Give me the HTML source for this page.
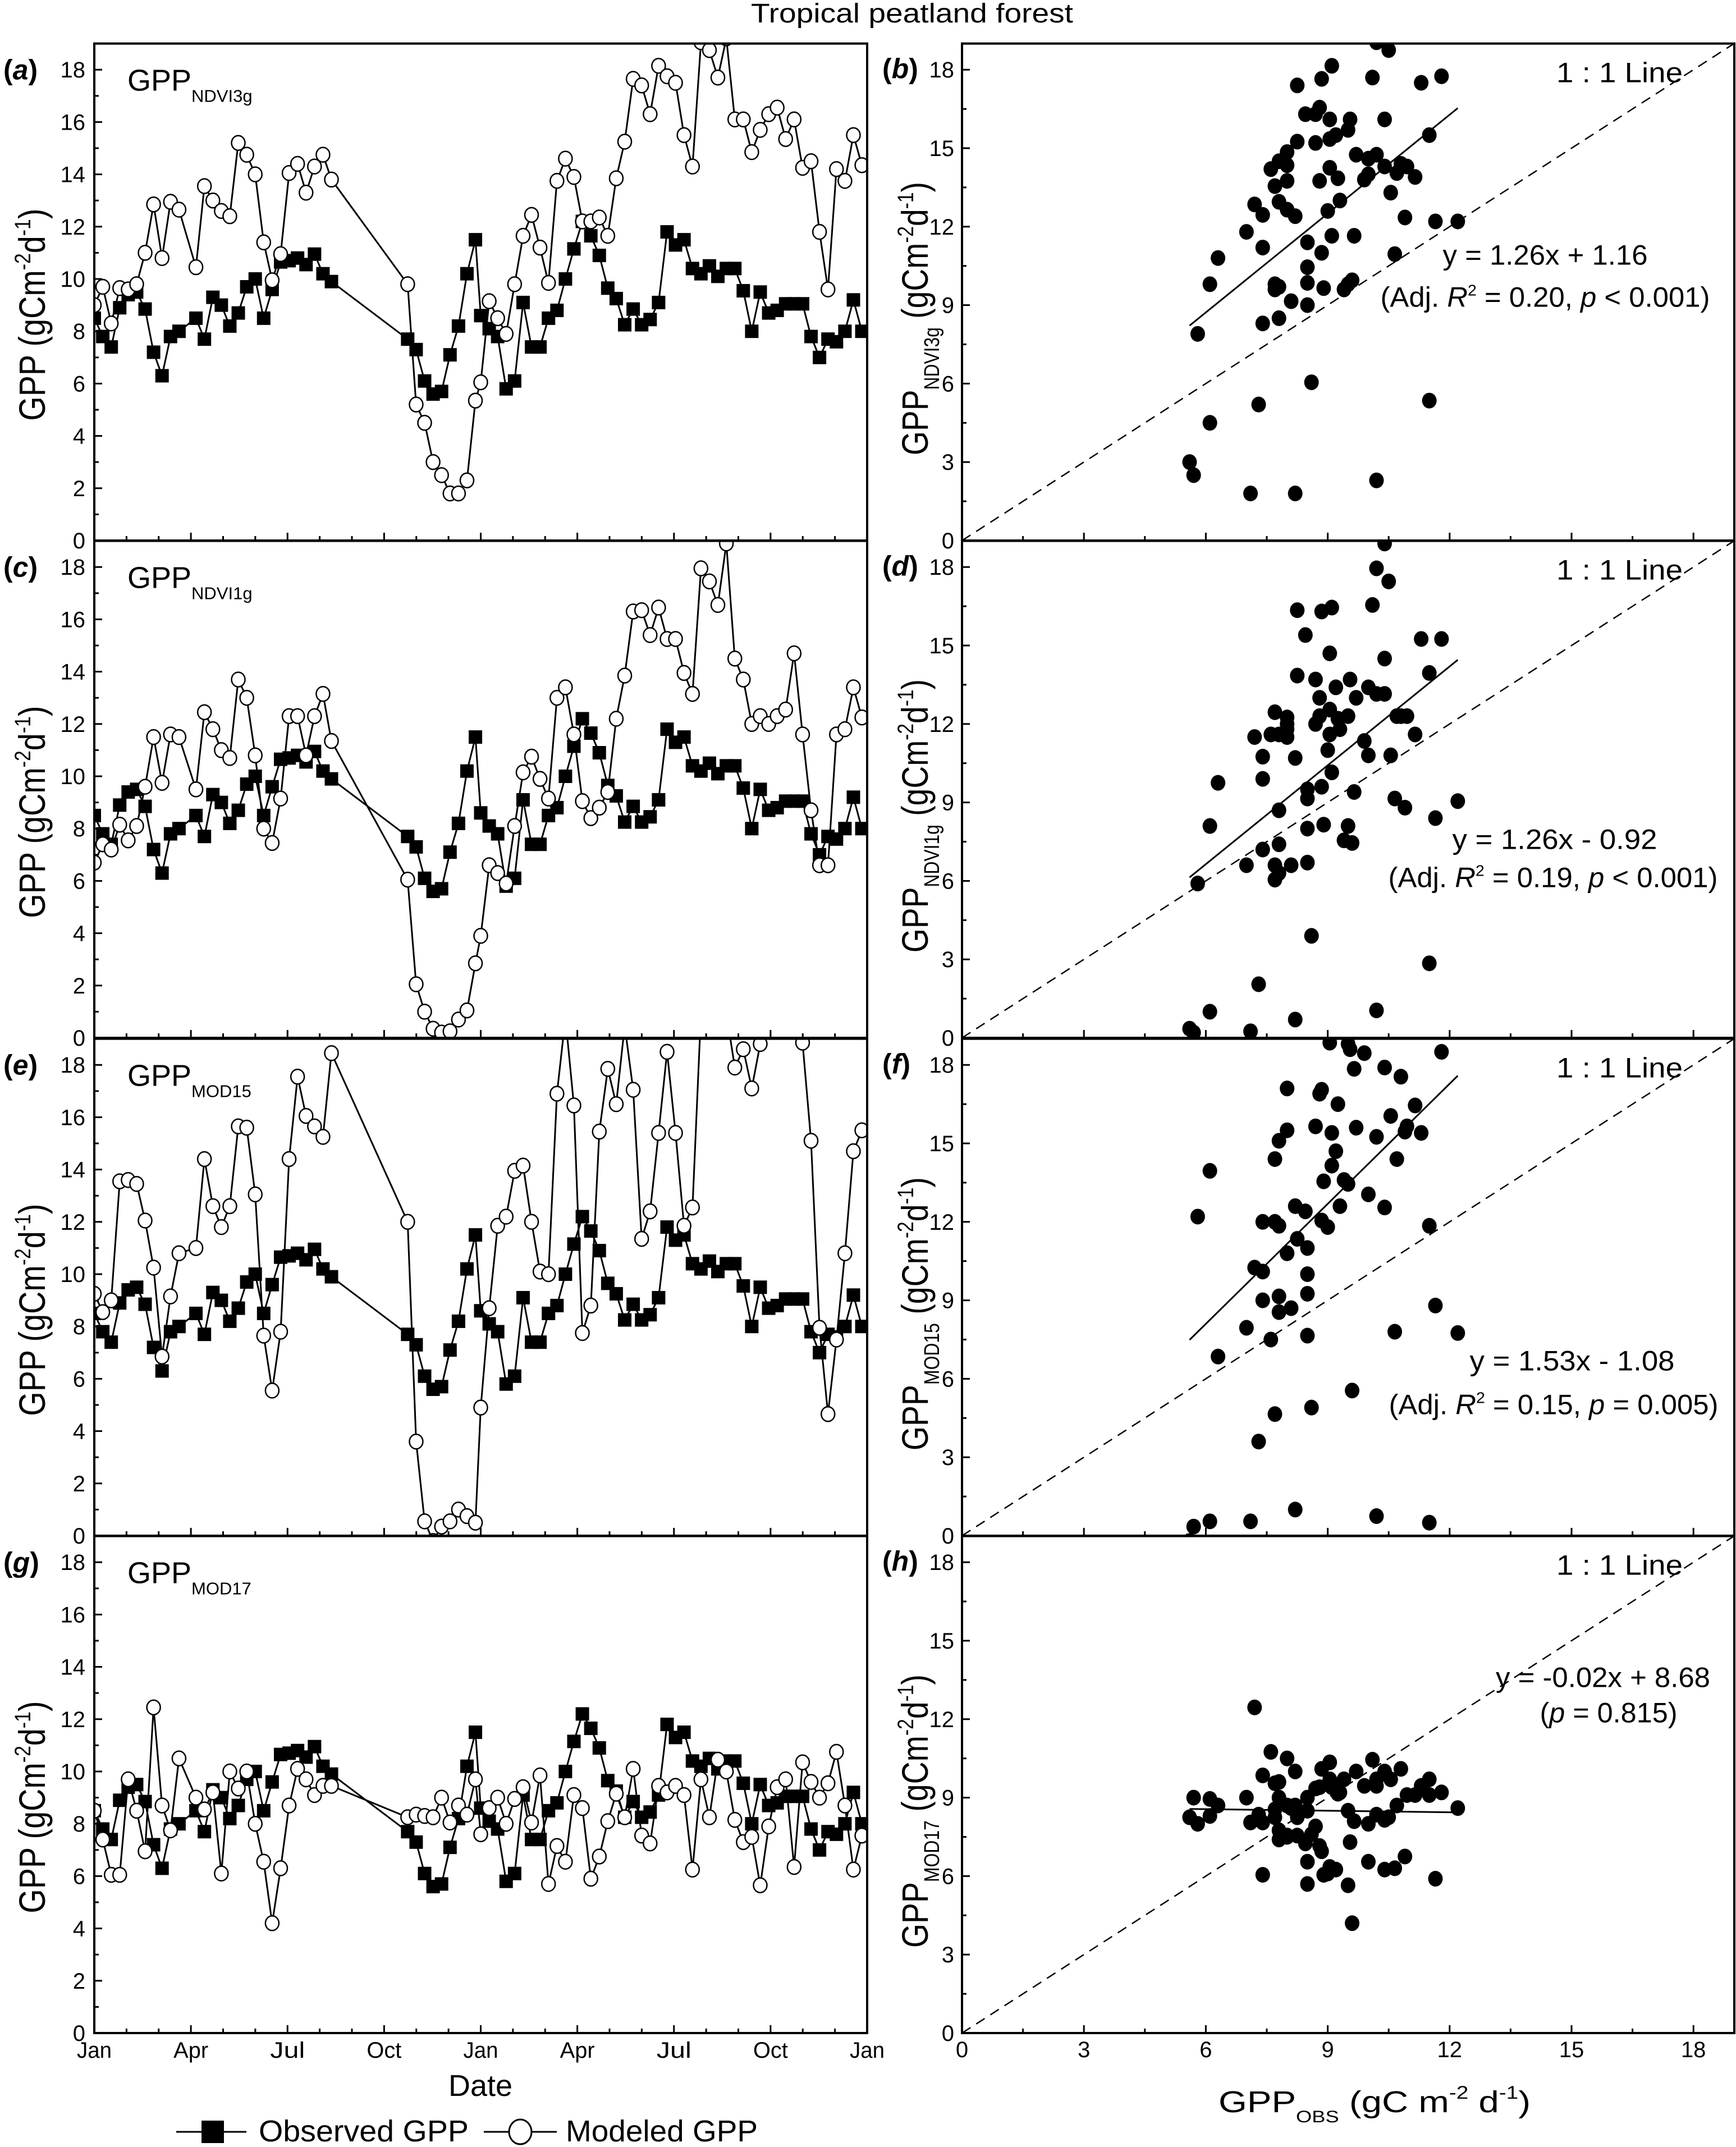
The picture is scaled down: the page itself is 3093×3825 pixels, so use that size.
<!DOCTYPE html>
<html><head><meta charset="utf-8"><style>
html,body{margin:0;padding:0;background:#fff;}
svg{display:block;}
text{font-family:"Liberation Sans Narrow","Liberation Sans",sans-serif;fill:#000;}
</style></head><body>
<svg id="chart" xmlns="http://www.w3.org/2000/svg" width="3093" height="3825" viewBox="0 0 3093 3825"></svg>
<script>
// ---- data ----
const dayOffsets = [0,8,16,24,32,40,48,56,64,72,80,96,104,112,120,128,136,144,152,160,168,176,184,192,200,208,216,224,296,304,312,320,328,336,344,352,360,
365,373,381,389,397,405,413,421,429,437,445,453,461,469,477,485,493,501,509,517,525,533,541,549,557,565,573,581,589,597,605,613,621,629,637,645,653,661,669,677,685,693,701,709,717,725];
const observedGPP = [8.5,7.8,7.4,8.9,9.4,9.5,8.85,7.2,6.3,7.8,8.0,
8.5,7.7,9.3,9.0,8.2,8.7,9.7,10.0,8.5,9.6,10.65,10.7,10.8,10.55,10.95,10.2,9.9,
7.7,7.3,6.1,5.6,5.7,7.1,8.2,10.2,11.5,
8.6,8.1,7.8,5.8,6.1,9.1,7.4,7.4,8.5,8.8,10.0,11.15,12.2,11.65,10.9,9.65,9.25,8.25,8.85,8.25,8.45,9.1,11.8,11.3,11.5,10.4,10.2,10.5,10.1,10.4,10.4,9.55,8.0,9.5,8.7,8.8,9.05,9.05,9.05,7.8,7.0,7.7,7.6,8.0,9.2,8.0];
const modeledNDVI3g = [9.0,9.7,8.3,9.65,9.6,9.8,11.0,12.85,10.8,12.95,12.65,
10.45,13.55,13.0,12.6,12.4,15.2,14.75,14.0,11.4,9.95,10.95,14.05,14.4,13.3,14.3,14.75,13.8,
9.8,5.2,4.5,3.0,2.5,1.8,1.8,2.3,5.35,
6.05,9.15,8.5,7.9,9.8,11.65,12.45,11.2,9.85,13.75,14.6,13.9,12.2,12.2,12.35,11.65,13.85,15.25,17.65,17.4,16.3,18.15,17.75,17.5,15.5,14.3,19.05,18.75,17.7,19.2,16.1,16.1,14.85,15.7,16.3,16.55,15.35,16.1,14.25,14.5,11.8,9.6,14.2,13.75,15.5,14.35];
const modeledNDVI1g = [6.7,7.4,7.2,8.15,7.55,8.1,9.6,11.5,9.75,11.6,11.5,
9.5,12.45,11.8,11.0,10.7,13.7,13.0,10.8,8.0,7.45,9.15,12.3,12.3,10.8,12.3,13.15,11.35,
6.05,2.05,1.0,0.35,0.2,0.25,0.7,1.05,2.85,
3.9,6.6,6.3,5.9,8.1,10.15,10.75,9.9,9.15,13.0,13.4,11.6,9.05,8.4,8.8,9.4,12.2,13.85,16.3,16.35,15.4,16.45,15.25,15.25,13.95,13.15,17.95,17.45,16.55,18.9,14.5,13.7,12.0,12.3,12.0,12.3,12.55,14.7,11.6,8.7,6.6,6.6,11.6,11.8,13.4,12.25];
const modeledMOD15 = [9.25,8.55,9.0,13.55,13.6,13.45,12.05,10.25,6.85,9.15,10.8,
11.0,14.4,12.6,11.8,12.6,15.65,15.6,13.05,7.65,5.55,7.8,14.4,17.55,16.05,15.65,15.25,18.45,
12.0,3.6,0.55,-0.2,0.35,0.55,1.0,0.75,0.5,
4.9,8.7,11.85,12.2,13.95,14.15,12.0,10.1,10.0,16.9,19.8,16.45,7.75,8.8,15.45,17.85,16.5,19.5,17.05,11.35,12.4,15.4,18.5,15.4,11.85,12.55,20,20,20,20,17.9,18.6,17.1,18.8,20,20,20,20,18.85,15.1,7.95,4.65,7.5,10.8,14.7,15.5];
const modeledMOD17 = [8.5,7.4,6.05,6.05,9.7,8.5,6.95,12.45,8.7,7.75,10.5,
9.0,8.55,9.2,6.1,10.0,9.35,10.0,8.0,6.55,4.2,6.3,8.7,10.1,9.7,9.1,9.45,9.45,
8.25,8.35,8.3,8.25,9.0,8.05,8.7,8.35,9.7,
7.6,8.6,9.0,8.0,8.95,9.4,8.05,9.85,5.7,7.15,6.55,9.1,8.6,5.9,6.75,8.1,9.15,8.25,10.1,7.55,7.25,9.45,9.2,9.45,9.1,6.25,9.7,8.25,10.45,10.0,8.15,7.3,7.5,5.65,7.9,9.4,9.7,6.35,10.35,9.6,9.0,9.55,10.75,8.7,6.25,7.55];
const fitSlopes = [1.26,1.26,1.53,-0.02];
const fitIntercepts = [1.16,-0.92,-1.08,8.68];
const panelSubs = ["NDVI3g","NDVI1g","MOD15","MOD17"];
const leftLetters = ["a","c","e","g"];
const rightLetters = ["b","d","f","h"];
const leftYTicks = [0,2,4,6,8,10,12,14,16,18];
const rightTicks = [0,3,6,9,12,15,18];
const monthTickLabels = ["Jan","Apr","Jul","Oct","Jan","Apr","Jul","Oct","Jan"];
const eqLines1 = ["y = 1.26x + 1.16","y = 1.26x - 0.92","y = 1.53x - 1.08","y = -0.02x + 8.68"];

// ---- layout ----
const NS="http://www.w3.org/2000/svg";
const svg=document.getElementById('chart');
const LX0=168, LX1=1545, RX0=1714, RX1=3090, UNIT=46.6, RUNIT=72.4, YMAX=19;
const bottoms=[963,1849,2736,3622];
function mk(tag,attrs,parent){const e=document.createElementNS(NS,tag);for(const k in attrs)e.setAttribute(k,attrs[k]);(parent||svg).appendChild(e);return e;}
const xTime=d=>LX0+d/730*(LX1-LX0);
const xObs=v=>RX0+v*RUNIT;
const yVal=(v,b)=>b-v*UNIT;
const modeled=[modeledNDVI3g,modeledNDVI1g,modeledMOD15,modeledMOD17];

const title=mk('text',{x:1625,y:40,'text-anchor':'middle','font-size':48,textLength:574,lengthAdjust:'spacingAndGlyphs'});
title.textContent='Tropical peatland forest';



for(let p=0;p<4;p++){
  const b=bottoms[p], top=b-YMAX*UNIT;
  // clip paths
  const cl=mk('clipPath',{id:'cl'+p}); mk('rect',{x:LX0,y:top,width:LX1-LX0,height:b-top},cl);
  const cr=mk('clipPath',{id:'cr'+p}); mk('rect',{x:RX0,y:top,width:RX1-RX0,height:b-top},cr);

  // ---------- LEFT time series ----------
  const gl=mk('g',{});
  
  
  // ticks
  for(let v=0;v<=19;v++){const y=yVal(v,b);const len=v%2===0?14:8;mk('line',{x1:LX0,y1:y,x2:LX0+len,y2:y,stroke:'#000','stroke-width':3},gl);}
  for(let m=0;m<=24;m++){const x=LX0+m/24*(LX1-LX0);const len=m%3===0?14:8;mk('line',{x1:x,y1:b,x2:x,y2:b-len,stroke:'#000','stroke-width':3},gl);}
  leftYTicks.forEach(v=>{const t=mk('text',{x:152,y:yVal(v,b)+14,'text-anchor':'end','font-size':40},gl);t.textContent=v;
    
    });
  const yt=mk('text',{transform:`translate(80,${top+483}) rotate(-90)`,'text-anchor':'middle','font-size':66,textLength:378,lengthAdjust:'spacingAndGlyphs'},gl);
  yt.innerHTML='GPP (gCm<tspan dy="-26" font-size="40">-2</tspan><tspan dy="26">d</tspan><tspan dy="-26" font-size="40">-1</tspan><tspan dy="26">)</tspan>';
  
  
  const lt=mk('text',{x:6,y:top+64,'font-size':50,'font-weight':'bold'},gl);
  lt.innerHTML='(<tspan font-style="italic">'+leftLetters[p]+'</tspan>)';
  
  
  const pl=mk('text',{x:227,y:top+84,'font-size':54},gl);
  pl.innerHTML='GPP<tspan dy="20" font-size="31">'+panelSubs[p]+'</tspan>';
  
  

  const sg=mk('g',{'clip-path':'url(#cl'+p+')'},gl);
  // observed
  let d=observedGPP.map((v,i)=>(i?'L':'M')+xTime(dayOffsets[i]).toFixed(1)+','+yVal(v,b).toFixed(1)).join(' ');
  const ol=mk('path',{d:d,fill:'none',stroke:'#000','stroke-width':3},sg);
  
  
  observedGPP.forEach((v,i)=>{const r=mk('rect',{x:xTime(dayOffsets[i])-12,y:yVal(v,b)-12,width:24,height:24,fill:'#000'},sg);
    
    });
  // modeled
  const mod=modeled[p];
  d=mod.map((v,i)=>(i?'L':'M')+xTime(dayOffsets[i]).toFixed(1)+','+yVal(v,b).toFixed(1)).join(' ');
  const ml=mk('path',{d:d,fill:'none',stroke:'#000','stroke-width':3},sg);
  
  
  mod.forEach((v,i)=>{const c=mk('ellipse',{cx:xTime(dayOffsets[i]),cy:yVal(v,b),rx:12,ry:13,fill:'#fff',stroke:'#000','stroke-width':2.5},sg);
    
    });
  mk('rect',{x:LX0,y:top,width:LX1-LX0,height:b-top,fill:'none',stroke:'#000','stroke-width':4},gl);

  // ---------- RIGHT scatter ----------
  const gr=mk('g',{});
  
  
  for(let k=0;k<=12;k++){const v=k*1.5;const len=k%2===0?14:8;
    mk('line',{x1:RX0,y1:yVal(v,b),x2:RX0+len,y2:yVal(v,b),stroke:'#000','stroke-width':3},gr);
    mk('line',{x1:xObs(v),y1:b,x2:xObs(v),y2:b-len,stroke:'#000','stroke-width':3},gr);}
  rightTicks.forEach(v=>{const t=mk('text',{x:1700,y:yVal(v,b)+14,'text-anchor':'end','font-size':40},gr);t.textContent=v;
    
    });
  const ryt=mk('text',{transform:`translate(1653,${top+490}) rotate(-90)`,'text-anchor':'middle','font-size':66,textLength:487,lengthAdjust:'spacingAndGlyphs'},gr);
  ryt.innerHTML='GPP<tspan dy="20" font-size="38">'+panelSubs[p]+'</tspan><tspan dy="-20"> (gCm</tspan><tspan dy="-26" font-size="40">-2</tspan><tspan dy="26">d</tspan><tspan dy="-26" font-size="40">-1</tspan><tspan dy="26">)</tspan>';
  
  
  const rlt=mk('text',{x:1572,y:top+62,'font-size':50,'font-weight':'bold'},gr);
  rlt.innerHTML='(<tspan font-style="italic">'+rightLetters[p]+'</tspan>)';
  
  
  const rsg=mk('g',{'clip-path':'url(#cr'+p+')'},gr);
  const oneone=mk('line',{x1:xObs(0),y1:yVal(0,b),x2:xObs(19),y2:yVal(19,b),stroke:'#000','stroke-width':2.5,'stroke-dasharray':'18 12'},rsg);
  
  
  observedGPP.forEach((v,i)=>{const c=mk('ellipse',{cx:xObs(v),cy:yVal(mod[i],b),rx:13,ry:14,fill:'#000'},rsg);
    
    });
  const xmin=Math.min(...observedGPP), xmax=Math.max(...observedGPP);
  const fl=mk('line',{x1:xObs(xmin),y1:yVal(fitSlopes[p]*xmin+fitIntercepts[p],b),x2:xObs(xmax),y2:yVal(fitSlopes[p]*xmax+fitIntercepts[p],b),stroke:'#000','stroke-width':3},rsg);
  
  
  const ll=mk('text',{x:2773,y:top+69,'font-size':50,textLength:225,lengthAdjust:'spacingAndGlyphs'},gr);
  ll.textContent='1 : 1 Line';
  
  
  const eqPos=[[2753,394,2753,469],[2770,549,2767,617],[2801,591,2768,669],[2856,269,2866,332]][p];
  const e1=mk('text',{x:eqPos[0],y:top+eqPos[1],'text-anchor':'middle','font-size':50,textLength:p===3?382:365,lengthAdjust:'spacingAndGlyphs'},gr);
  e1.textContent=eqLines1[p];
  
  
  const e2=mk('text',{x:eqPos[2],y:top+eqPos[3],'text-anchor':'middle','font-size':50},gr);
  if(p===0) e2.innerHTML='(Adj. <tspan font-style="italic">R</tspan><tspan dy="-20" font-size="28">2</tspan><tspan dy="20"> = 0.20, </tspan><tspan font-style="italic">p</tspan> &lt; 0.001)';
  if(p===1) e2.innerHTML='(Adj. <tspan font-style="italic">R</tspan><tspan dy="-20" font-size="28">2</tspan><tspan dy="20"> = 0.19, </tspan><tspan font-style="italic">p</tspan> &lt; 0.001)';
  if(p===2) e2.innerHTML='(Adj. <tspan font-style="italic">R</tspan><tspan dy="-20" font-size="28">2</tspan><tspan dy="20"> = 0.15, </tspan><tspan font-style="italic">p</tspan> = 0.005)';
  if(p===3) e2.innerHTML='(<tspan font-style="italic">p</tspan> = 0.815)';
  e2.setAttribute('textLength',p===3?245:587);
  e2.setAttribute('lengthAdjust','spacingAndGlyphs');
  
  
  mk('rect',{x:RX0,y:top,width:RX1-RX0,height:b-top,fill:'none',stroke:'#000','stroke-width':4},gr);
}

// bottom axes labels
monthTickLabels.forEach((m,i)=>{const t=mk('text',{x:LX0+i*(LX1-LX0)/8,y:3666,'text-anchor':'middle','font-size':40,textLength:62,lengthAdjust:'spacingAndGlyphs'});t.textContent=m;
  
  });
rightTicks.forEach(v=>{const t=mk('text',{x:xObs(v),y:3665,'text-anchor':'middle','font-size':40});t.textContent=v;
  
  });
const dt=mk('text',{x:856,y:3734,'text-anchor':'middle','font-size':54,textLength:114,lengthAdjust:'spacingAndGlyphs'});
dt.textContent='Date';


const rxt=mk('text',{x:2171,y:3763,'font-size':54,textLength:556,lengthAdjust:'spacingAndGlyphs'});
rxt.innerHTML='GPP<tspan dy="18" font-size="30">OBS</tspan><tspan dy="-18"> (gC m</tspan><tspan dy="-24" font-size="32">-2</tspan><tspan dy="24"> d</tspan><tspan dy="-24" font-size="32">-1</tspan><tspan dy="24">)</tspan>';



// legend
const lg=mk('g',{});


mk('line',{x1:314,y1:3798,x2:439,y2:3798,stroke:'#000','stroke-width':3},lg);
mk('rect',{x:359,y:3778,width:40,height:40,fill:'#000'},lg);
const lt1=mk('text',{x:461,y:3815,'font-size':54,textLength:374,lengthAdjust:'spacingAndGlyphs'},lg);
lt1.textContent='Observed GPP';


mk('line',{x1:862,y1:3798,x2:992,y2:3798,stroke:'#000','stroke-width':3},lg);
mk('ellipse',{cx:927,cy:3798,rx:20,ry:22,fill:'#fff',stroke:'#000','stroke-width':3},lg);
const lt2=mk('text',{x:1008,y:3815,'font-size':54,textLength:342,lengthAdjust:'spacingAndGlyphs'},lg);
lt2.textContent='Modeled GPP';


</script>
</body></html>
